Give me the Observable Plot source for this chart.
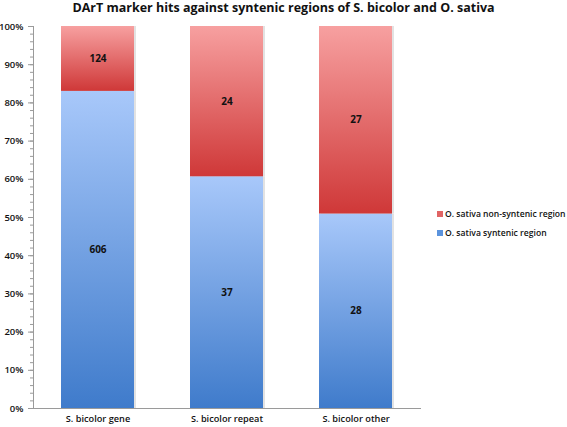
<!DOCTYPE html>
<html><head><meta charset="utf-8">
<script src="https://cdn.jsdelivr.net/npm/d3@7"></script>
<script src="https://cdn.jsdelivr.net/npm/@observablehq/plot@0.6"></script>
<style>
body{margin:0;background:#fff;}
#wrap{position:relative;width:567px;height:427px;font-family:"Open Sans",sans-serif;color:#111;}
#title{position:absolute;left:0;top:-1px;width:567px;text-align:center;font-size:12.5px;font-weight:700;z-index:2;}
.leg{position:absolute;left:437px;font-size:8.6px;font-weight:600;display:flex;align-items:center;white-space:nowrap;z-index:2;}
.sw{width:6px;height:6px;margin-right:2px;}
</style></head><body><div id="wrap"><div id="title">DArT marker hits against syntenic regions of S. bicolor and O. sativa</div></div>
<script>
const categories = ["S. bicolor gene", "S. bicolor repeat", "S. bicolor other"];
const syntenic = [606, 37, 28];
const nonSyntenic = [124, 24, 27];
const seriesNames = ["O. sativa syntenic region", "O. sativa non-syntenic region"];
const seriesColors = ["#5b93dd", "#e06464"];
const yMajor = [0, 10, 20, 30, 40, 50, 60, 70, 80, 90, 100];
const yMinor = d3.range(0, 101, 2);

const table = [];
categories.forEach((c, i) => table.push({cat: c, series: seriesNames[0], value: syntenic[i]}));
categories.forEach((c, i) => table.push({cat: c, series: seriesNames[1], value: nonSyntenic[i]}));

const stack = (opts) => Plot.stackY({x: "cat", y: "value", z: "series", offset: "normalize", ...opts});

const chart = Plot.plot({
  width: 567, height: 427,
  marginTop: 26, marginBottom: 19, marginLeft: 33, marginRight: 146,
  style: {fontFamily: "'Open Sans', sans-serif", fontWeight: 600, fontSize: "10px", color: "#111", background: "transparent"},
  x: {domain: categories, paddingInner: 0.431, paddingOuter: 0.208, label: null},
  y: {domain: [0, 100], percent: true, label: null},
  color: {type: "ordinal", domain: seriesNames, range: ["url(#gBlue)", "url(#gRed)"]},
  marks: [
    Plot.gridY(yMajor, {stroke: "#9a9a9a", strokeOpacity: 1, strokeWidth: 1}),
    Plot.barY(table, stack({fill: "#e2e2e2", dx: 2})),
    Plot.barY(table, stack({fill: "series"})),
    Plot.text(table, stack({text: "value", fontSize: 10, fontWeight: 700, fill: "#111"})),
    Plot.axisY({ticks: yMinor, tickSize: 3, tickFormat: () => "", stroke: "#9a9a9a"}),
    Plot.axisY({ticks: yMajor, tickSize: 5, tickPadding: 5, tickFormat: d => d + "%", stroke: "#9a9a9a", fontSize: 9.5, fontWeight: 600, label: null}),
    Plot.axisX({tickSize: 0, tickPadding: 7, fontSize: 9.2, fontWeight: 600, label: null})
  ]
});

const svgNS = "http://www.w3.org/2000/svg";
const defs = document.createElementNS(svgNS, "defs");
function grad(id, top, bottom) {
  const g = document.createElementNS(svgNS, "linearGradient");
  g.setAttribute("id", id);
  g.setAttribute("x1", "0"); g.setAttribute("y1", "0");
  g.setAttribute("x2", "0"); g.setAttribute("y2", "1");
  [[0, top], [1, bottom]].forEach(([o, c]) => {
    const s = document.createElementNS(svgNS, "stop");
    s.setAttribute("offset", o);
    s.setAttribute("stop-color", c);
    g.appendChild(s);
  });
  defs.appendChild(g);
}
grad("gBlue", "#a8c8fa", "#3f7bcb");
grad("gRed", "#f7a0a0", "#cf3838");
chart.insertBefore(defs, chart.firstChild);

// vertical axis line along the left edge of the frame
const ys = chart.scale("y");
const axisLine = document.createElementNS(svgNS, "line");
axisLine.setAttribute("x1", 33.5); axisLine.setAttribute("x2", 33.5);
axisLine.setAttribute("y1", ys.apply(0)); axisLine.setAttribute("y2", ys.apply(100));
axisLine.setAttribute("stroke", "#9a9a9a");
chart.appendChild(axisLine);

chart.style.position = "absolute";
chart.style.left = "0"; chart.style.top = "0";
document.getElementById("wrap").appendChild(chart);

const legendRows = [[seriesNames[1], seriesColors[1], 208], [seriesNames[0], seriesColors[0], 227]];
legendRows.forEach(([name, col, top]) => {
  const d = document.createElement("div");
  d.className = "leg";
  d.style.top = top + "px";
  d.innerHTML = `<span class="sw" style="background:${col}"></span>${name}`;
  document.getElementById("wrap").appendChild(d);
});
</script></body></html>
